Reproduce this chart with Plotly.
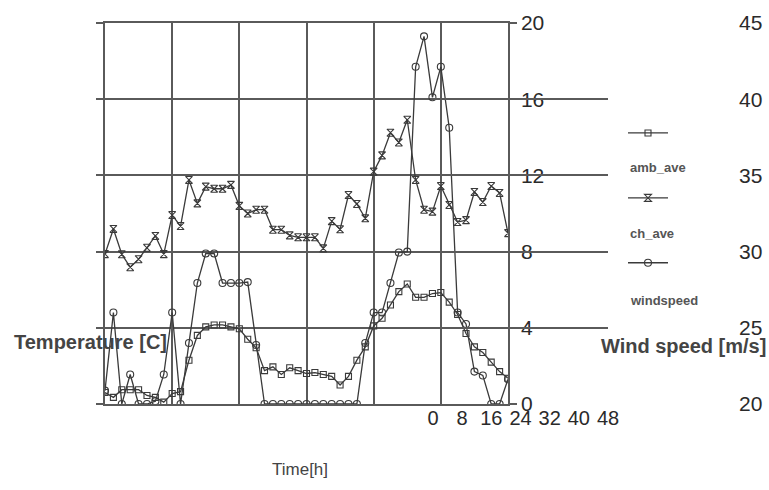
import plotly.graph_objects as go

hours = list(range(0, 49))
x_tick_vals = [0, 8, 16, 24, 32, 40, 48]
temp_ticks = [0, 4, 8, 12, 16, 20]
wind_ticks = [20, 25, 30, 35, 40, 45]

amb_ave = [0.6, 0.35, 0.75, 0.75, 0.75, 0.45, 0.35, 0.1, 0.55, 0.65,
           2.3, 3.6, 4.05, 4.15, 4.15, 4.05, 3.95, 3.4, 2.95, 1.75,
           1.95, 1.55, 1.9, 1.75, 1.6, 1.65, 1.55, 1.45, 1.0, 1.45,
           2.3, 3.0, 4.1, 4.5, 5.2, 5.9, 6.3, 5.6, 5.6, 5.8,
           5.85, 5.35, 4.7, 3.7, 3.0, 2.7, 2.2, 1.7, 1.35]
ch_ave = [7.87, 9.19, 7.86, 7.18, 7.6, 8.2, 8.82, 7.87, 9.92, 9.34,
          11.76, 10.53, 11.41, 11.3, 11.3, 11.5, 10.4, 10.0, 10.2, 10.2,
          9.15, 9.15, 8.85, 8.75, 8.75, 8.75, 8.17, 9.6, 9.17, 10.97,
          10.5, 9.75, 12.2, 13.05, 14.24, 13.73, 14.92, 11.76, 10.2, 10.1,
          11.44, 10.45, 9.55, 9.65, 11.13, 10.6, 11.44, 11.08, 8.97]
windspeed = [0.7, 4.8, 0.0, 1.55, 0.0, 0.0, 0.15, 1.55, 4.8, 0.0,
             3.2, 6.35, 7.9, 7.9, 6.35, 6.35, 6.35, 6.4, 3.1, 0.0,
             0.0, 0.0, 0.0, 0.0, 0.0, 0.0, 0.0, 0.0, 0.0, 0.0,
             0.0, 3.2, 4.8, 4.8, 6.35, 7.95, 8.0, 17.7, 19.3, 16.1,
             17.7, 14.5, 4.8, 4.2, 1.7, 1.5, 0.0, 0.0, 1.3]

W, H = 769, 490
ML, MR, MT, MB = 105, 10, 23, 86
PW = W - ML - MR
PH = H - MT - MB


def px(x):
    return (x - ML) / PW


def py(y):
    return (H - MB - y) / PH


FONT = "Liberation Sans, Arial, sans-serif"
INK = "#3a3a3a"
GRID = "#5a5a5a"

fig = go.Figure()
series = [
    ("amb_ave", amb_ave, "square-open", 6),
    ("ch_ave", ch_ave, "hourglass-open", 7),
    ("windspeed", windspeed, "circle-open", 7),
]
for i, (name, vals, sym, size) in enumerate(series):
    fig.add_trace(go.Scatter(
        x=hours, y=vals, mode="lines+markers", name=" ",
        legendgroup=name,
        line=dict(color=INK, width=1.3),
        marker=dict(symbol=sym, size=size, color=INK, line=dict(width=1.1, color=INK)),
        xaxis="x", yaxis="y",
    ))

# empty traces so the extra tick-label axes are rendered
fig.add_trace(go.Scatter(x=[None], y=[None], xaxis="x2", yaxis="y",
                         showlegend=False, hoverinfo="skip"))
fig.add_trace(go.Scatter(x=[None], y=[None], xaxis="x", yaxis="y2",
                         showlegend=False, hoverinfo="skip"))

LABEL_FONT = dict(size=21, color="#2a2a2a")

fig.update_layout(
    width=W, height=H,
    margin=dict(l=ML, r=MR, t=MT, b=MB, autoexpand=False),
    paper_bgcolor="white", plot_bgcolor="rgba(0,0,0,0)",
    font=dict(family=FONT, color=INK),
    showlegend=True,
    legend=dict(x=px(623), y=py(118), xanchor="left", yanchor="top",
                bgcolor="rgba(0,0,0,0)", font=dict(size=13),
                tracegroupgap=45, itemwidth=40),
    xaxis=dict(domain=[0, px(508)], range=[0, 48], tickvals=x_tick_vals,
               showticklabels=False, ticks="", showgrid=True, automargin=False,
               gridcolor=GRID, gridwidth=1.5, zeroline=False,
               showline=True, linecolor=GRID, linewidth=1.5, mirror=True),
    yaxis=dict(range=[0, 20], tickvals=temp_ticks, side="right", automargin=False,
               ticks="outside", ticklen=7, tickcolor=GRID, tickwidth=1.5,
               tickfont=LABEL_FONT,
               showgrid=True, gridcolor=GRID, gridwidth=1.5, zeroline=False,
               showline=True, linecolor=GRID, linewidth=1.5, mirror="ticks"),
    yaxis2=dict(overlaying="y", anchor="free", position=px(738), side="right",
                range=[20, 45], tickvals=wind_ticks, ticks="", automargin=False,
                showgrid=False, zeroline=False, showline=False,
                tickfont=LABEL_FONT),
    xaxis2=dict(domain=[px(433), px(608)], anchor="y", range=[0, 48],
                tickvals=x_tick_vals, ticks="", showgrid=False, automargin=False,
                zeroline=False, showline=False,
                tickfont=dict(size=20, color="#2a2a2a")),
)

ann = [
    dict(text="<b>Temperature [C]</b>", x=px(12), y=py(342), xanchor="left",
         yanchor="middle", font=dict(size=20, color="#444")),
    dict(text="<b>Wind speed [m/s]</b>", x=px(768), y=py(346), xanchor="right",
         yanchor="middle", font=dict(size=20, color="#444")),
    dict(text="Time[h]", x=px(300), y=py(469), xanchor="center",
         yanchor="middle", font=dict(size=17, color="#444")),
    dict(text="<b>amb_ave</b>", x=px(628), y=py(168), xanchor="left",
         yanchor="middle", font=dict(size=13, color="#555")),
    dict(text="<b>ch_ave</b>", x=px(628), y=py(233), xanchor="left",
         yanchor="middle", font=dict(size=13, color="#555")),
    dict(text="<b>windspeed</b>", x=px(628), y=py(300), xanchor="left",
         yanchor="middle", font=dict(size=13, color="#555")),
]
for a in ann:
    a.update(xref="paper", yref="paper", showarrow=False)
fig.update_layout(annotations=ann)

fig.write_html("out.html")
